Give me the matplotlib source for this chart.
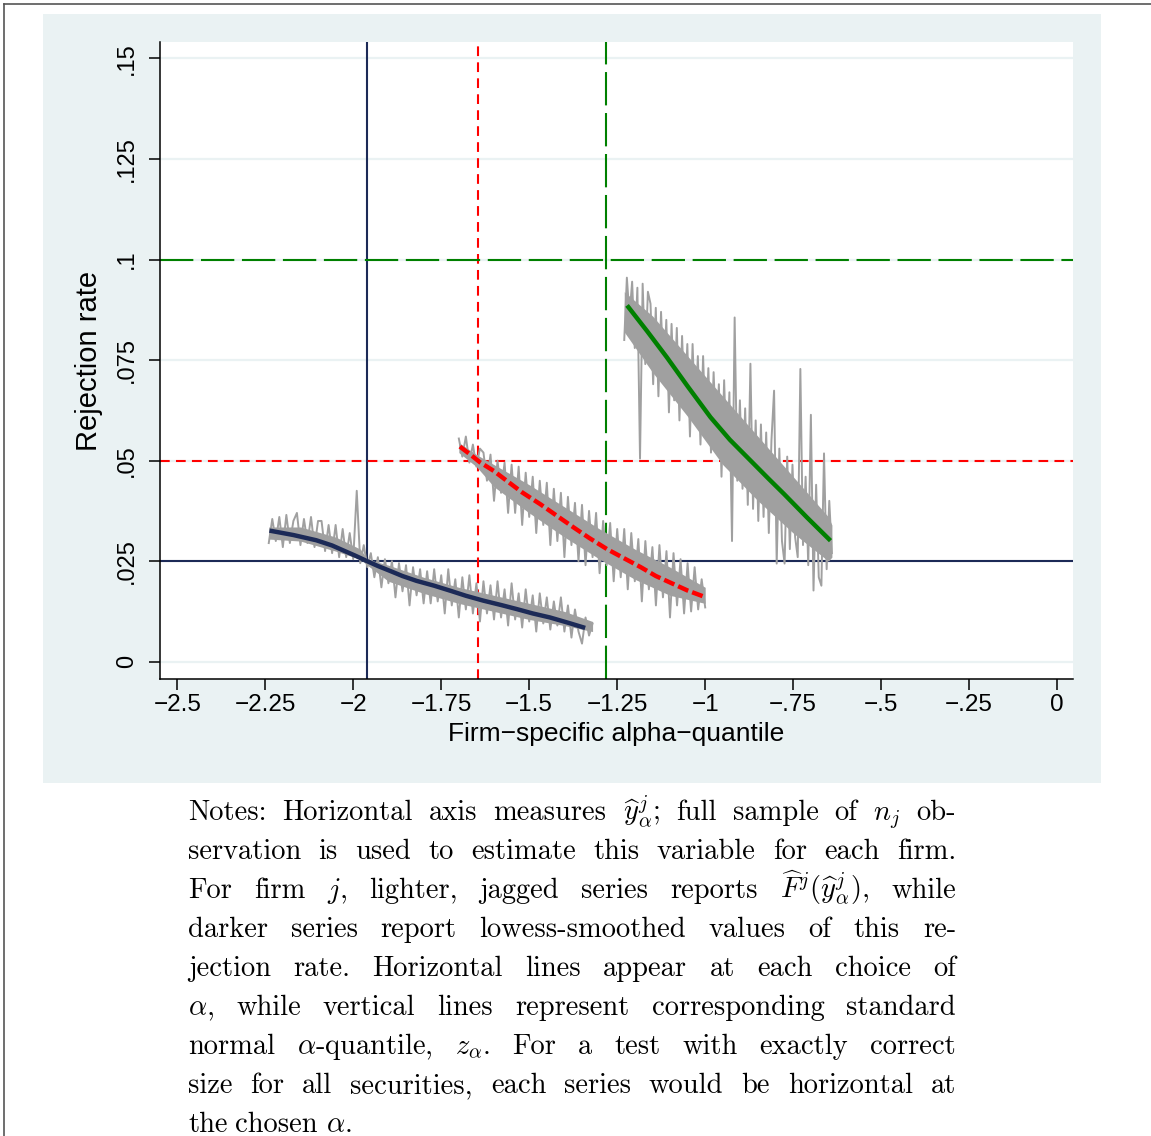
import numpy as np
import matplotlib
matplotlib.use('Agg')
import matplotlib.pyplot as plt
from matplotlib.patches import Rectangle

plt.rcParams['font.family'] = ['Liberation Sans', 'DejaVu Sans']
plt.rcParams['mathtext.fontset'] = 'cm'
plt.rcParams['lines.scale_dashes'] = False

# Rejection rates (percent) of the jagged firm series
gray_sd196 = np.array([
    2.95, 3.55, 3.0, 3.6, 2.85, 3.65, 2.95, 3.5, 3.7, 2.9, 3.55, 2.95, 3.6, 2.85, 3.5,
    3.5, 2.75, 3.4, 2.7, 3.4, 2.6, 3.3, 2.6, 3.2, 2.55,
    4.25, 2.45, 2.9, 2.35,
    2.7, 2.1, 2.6, 1.85, 2.55, 1.95, 2.5, 1.6, 2.45, 1.75, 2.4, 1.4, 2.35, 1.65, 2.3, 1.45,
    2.25, 1.45, 2.3, 1.5, 2.15, 1.2, 2.3, 1.4, 2.05, 1.1, 2.1, 1.3, 2.15, 1.2, 1.95, 1.0, 2.0, 1.2, 1.9, 1.05,
    2.0, 1.1, 1.8, 0.9, 1.95, 1.05, 1.7, 0.85, 1.8, 1.0, 1.65, 0.75, 1.7, 0.95, 1.6, 0.8, 1.5, 0.9, 1.6, 0.75,
    1.4, 0.6, 1.3, 0.75, 0.45, 1.1, 0.65, 0.95]) / 100
gray_sd1645 = np.array([
    5.55, 5.1, 5.6, 4.95, 5.4, 4.85, 5.3,
    5.2, 4.5, 5.15, 4.0, 5.0, 4.2, 4.95, 3.7, 4.9,
    3.7, 4.85, 3.4, 4.7, 3.6, 4.6, 3.2, 4.5, 3.4, 4.45,
    2.9, 4.3, 3.0, 4.2, 2.6, 4.1, 2.9, 3.95, 2.5, 3.9,
    2.4, 3.75, 2.6, 3.7, 2.2, 3.5, 2.4, 3.45, 2.0, 3.3,
    2.1, 3.3, 1.8, 3.2, 2.0, 3.05, 1.5, 3.0, 1.8, 2.85,
    1.4, 2.9, 1.6, 2.75, 1.1, 2.7, 1.4, 2.55, 1.2, 2.45,
    1.25, 2.35, 1.3, 2.05, 1.35]) / 100
gray_sd128 = np.array([
    8.0, 9.55, 8.6, 9.45, 7.8, 9.3, 5.05, 9.4, 7.4, 9.2,
    8.9, 6.9, 8.8, 6.6, 8.7, 7.0, 8.5, 6.2, 8.4, 6.5,
    8.3, 6.0, 8.1, 6.3, 7.9, 5.6, 7.9, 6.0, 7.6, 5.4,
    7.6, 5.6, 7.3, 5.2, 7.2, 5.5, 6.9, 4.6, 7.0, 4.9,
    6.7, 3.0, 8.56, 4.5, 6.5, 4.3, 6.3, 3.9, 7.41, 3.8,
    6.0, 3.5, 5.9, 3.6, 5.7, 3.2, 5.5, 6.74, 2.44, 5.3,
    3.0, 2.44, 5.1, 2.8, 4.9, 3.1, 2.6, 7.28, 2.9, 4.6,
    2.4, 6.14, 1.77, 4.4, 2.1, 1.89, 5.18, 2.3, 4.0, 2.7]) / 100
gray_ranges = [(-2.24, -1.32), (-1.70, -1.00), (-1.23, -0.64)]

# dense core of each jagged series (percent), where the gray is solid
core_x1 = [-2.24, -2.15, -2.05, -1.98, -1.96, -1.90, -1.80, -1.70, -1.60, -1.50, -1.40, -1.32]
core_lo1 = [3.05, 3.0, 2.75, 2.55, 2.4, 2.0, 1.7, 1.45, 1.25, 1.05, 0.9, 0.75]
core_hi1 = [3.35, 3.35, 3.1, 2.8, 2.55, 2.4, 2.1, 1.85, 1.65, 1.45, 1.25, 1.0]
core_x2 = [-1.70, -1.65, -1.60, -1.50, -1.40, -1.30, -1.20, -1.10, -1.00]
core_lo2 = [5.2, 4.85, 4.35, 3.7, 3.1, 2.55, 2.05, 1.65, 1.45]
core_hi2 = [5.45, 5.15, 4.9, 4.4, 3.85, 3.3, 2.8, 2.35, 1.85]
core_x3 = [-1.23, -1.15, -1.05, -0.95, -0.85, -0.75, -0.65, -0.64]
core_lo3 = [8.2, 7.2, 6.1, 4.9, 4.0, 3.2, 2.5, 2.6]
core_hi3 = [9.2, 8.6, 7.6, 6.6, 5.6, 4.6, 3.6, 3.4]

# Lowess-smoothed series
smooth_x1 = [-2.238, -2.17, -2.105, -2.06, -2.029, -1.995, -1.963, -1.93, -1.896, -1.86, -1.82,
             -1.77, -1.726, -1.68, -1.631, -1.58, -1.536, -1.49, -1.441, -1.39, -1.341]
smooth_y1 = [0.0326, 0.0315, 0.0302, 0.0289, 0.0277, 0.0264, 0.0251, 0.0238, 0.0226, 0.0213, 0.0201,
             0.0189, 0.0177, 0.0164, 0.0152, 0.0141, 0.0131, 0.0120, 0.0110, 0.0097, 0.0084]
smooth_x2 = [-1.697, -1.67, -1.640, -1.60, -1.564, -1.52, -1.469, -1.42, -1.374, -1.33, -1.279,
             -1.23, -1.183, -1.14, -1.090, -1.05, -1.004]
smooth_y2 = [0.0535, 0.0517, 0.0496, 0.0474, 0.0450, 0.0421, 0.0392, 0.0362, 0.0334, 0.0308, 0.0280,
             0.0257, 0.0235, 0.0213, 0.0193, 0.0177, 0.0162]
smooth_x3 = [-1.222, -1.165, -1.109, -1.05, -0.985, -0.93, -0.871, -0.82, -0.776, -0.71, -0.644]
smooth_y3 = [0.0886, 0.0822, 0.0757, 0.0685, 0.0608, 0.0552, 0.0500, 0.0455, 0.0417, 0.0358, 0.0301]

# alpha levels and the matching normal quantiles
alphas = [0.025, 0.05, 0.1]
z_alpha = [-1.96, -1.645, -1.2816]

xticks = [-2.5, -2.25, -2, -1.75, -1.5, -1.25, -1, -0.75, -0.5, -0.25, 0]
xtick_labels = ['\u22122.5', '\u22122.25', '\u22122', '\u22121.75', '\u22121.5', '\u22121.25',
                '\u22121', '\u2212.75', '\u2212.5', '\u2212.25', '0']
yticks = [0, 0.025, 0.05, 0.075, 0.1, 0.125, 0.15]
ytick_labels = ['0', '.025', '.05', '.075', '.1', '.125', '.15']

note_lines = [
    r'Notes: Horizontal axis measures $\widehat{y}^j_\alpha$; full sample of $n_j$ ob-',
    r'servation is used to estimate this variable for each firm.',
    r'For firm $j$, lighter, jagged series reports $\widehat{F}^j(\widehat{y}^j_\alpha)$, while',
    r'darker series report lowess-smoothed values of this re-',
    r'jection rate.  Horizontal lines appear at each choice of',
    r'$\alpha$, while vertical lines represent corresponding standard',
    r'normal $\alpha$-quantile, $z_\alpha$.  For a test with exactly correct',
    r'size for all securities, each series would be horizontal at',
    r'the chosen $\alpha$.',
]

W, H = 1151, 1136
navy = '#1c2a57'
red = '#ff0000'
green = '#008000'
gray = '#a0a0a0'
panel = '#eaf2f3'

fig = plt.figure(figsize=(W / 100, H / 100), dpi=100)
fig.patch.set_facecolor('white')

# graph region background and page border
fig.patches.append(Rectangle((43 / W, 1 - 783 / H), (1101 - 43) / W, (783 - 14) / H,
                             transform=fig.transFigure, facecolor=panel, edgecolor='none', zorder=-5))
fig.add_artist(plt.Line2D([3.5 / W, 1], [1 - 3.5 / H, 1 - 3.5 / H], color='#555555', lw=1.2,
                          transform=fig.transFigure))
fig.add_artist(plt.Line2D([3.5 / W, 3.5 / W], [0, 1 - 3.5 / H], color='#555555', lw=1.2,
                          transform=fig.transFigure))

ax = fig.add_axes([160 / W, 1 - 679 / H, (1073 - 160) / W, (679 - 42) / H])
ax.set_facecolor('white')
ax.set_xlim(-2.549, 0.045)
ax.set_ylim(-0.0043, 0.1541)

for y in yticks:
    ax.axhline(y, color=panel, lw=1.6, zorder=0)

# reference lines
ax.axhline(alphas[0], color=navy, lw=1.5, zorder=1)
ax.axvline(z_alpha[0], color=navy, lw=1.5, zorder=1)
ax.axhline(alphas[1], color=red, lw=1.5, ls=(0, (7, 4.5)), zorder=1)
ax.axvline(z_alpha[1], color=red, lw=1.5, ls=(0, (7, 4.5)), zorder=1)
ax.axhline(alphas[2], color=green, lw=1.5, ls=(0, (24, 5.5)), zorder=1)
ax.axvline(z_alpha[2], color=green, lw=1.5, ls=(0, (24, 5.5)), zorder=1)

# jagged series: solid core plus the spiky line
for cx, lo, hi in [(core_x1, core_lo1, core_hi1), (core_x2, core_lo2, core_hi2),
                   (core_x3, core_lo3, core_hi3)]:
    ax.fill_between(cx, np.array(lo) / 100, np.array(hi) / 100, color=gray, lw=0, zorder=2)
for vals, (x0, x1) in zip([gray_sd196, gray_sd1645, gray_sd128], gray_ranges):
    ax.plot(np.linspace(x0, x1, len(vals)), vals, color=gray, lw=1.4, zorder=2)

# smoothed series
ax.plot(smooth_x1, smooth_y1, color=navy, lw=3.2, zorder=3, solid_capstyle='butt')
ax.plot(smooth_x2, smooth_y2, color=red, lw=3.2, ls=(0, (8, 3)), zorder=3)
ax.plot(smooth_x3, smooth_y3, color=green, lw=3.2, zorder=3, solid_capstyle='butt')

ax.spines['top'].set_visible(False)
ax.spines['right'].set_visible(False)
ax.spines['left'].set_linewidth(1.1)
ax.spines['bottom'].set_linewidth(1.1)

ax.set_xticks(xticks)
ax.set_xticklabels(xtick_labels, fontsize=17.5)
ax.set_yticks(yticks)
ax.set_yticklabels(ytick_labels, fontsize=17, rotation=90, va='center')
ax.tick_params(axis='both', direction='out', length=8, width=1.1, color='black')
ax.tick_params(axis='x', pad=3)
ax.tick_params(axis='y', pad=8)
ax.set_xlabel('Firm\u2212specific alpha\u2212quantile', fontsize=19, labelpad=4)
ax.set_ylabel('Rejection rate', fontsize=21, labelpad=9)

# justified notes text below the graph
fig.canvas.draw()
renderer = fig.canvas.get_renderer()
left, right = 188, 956
for k, line in enumerate(note_lines):
    words = line.split()
    ypos = 1 - (820 + 39 * k) / H
    texts = [fig.text(0, ypos, w, fontsize=20.5, family='cmr10', va='baseline') for w in words]
    widths = [t.get_window_extent(renderer).width for t in texts]
    if k < len(note_lines) - 1:
        gap = (right - left - sum(widths)) / (len(words) - 1)
    else:
        gap = 8
    x = left
    for t, w in zip(texts, widths):
        t.set_x(x / W)
        x += w + gap

fig.savefig('out.png', dpi=100)
